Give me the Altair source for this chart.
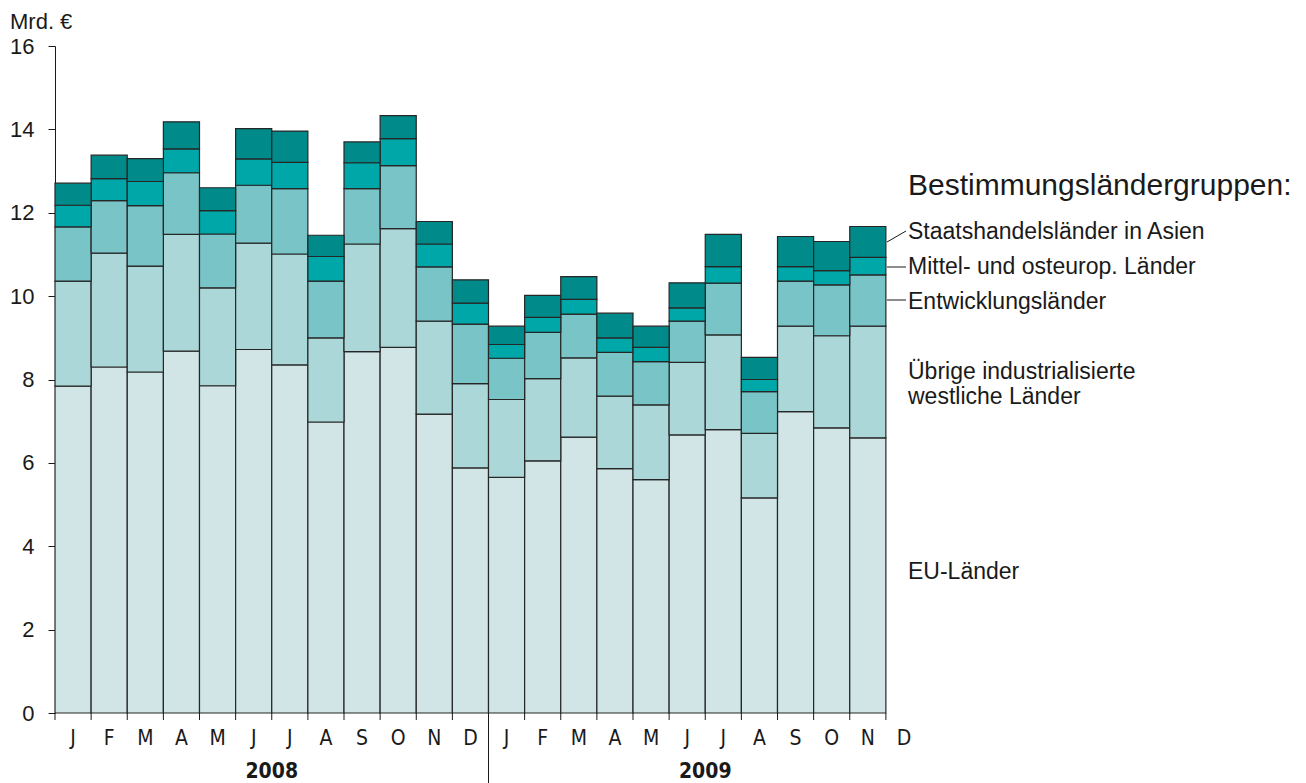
import altair as alt
import pandas as pd

# ---- data ----
years = ["2008", "2009"]
month_letters = ["J", "F", "M", "A", "M", "J", "J", "A", "S", "O", "N", "D"]
keys = [f"{y}-{m:02d}" for y in years for m in range(1, 13)]

series = ["EU-Länder", "Übrige industrialisierte westliche Länder", "Entwicklungsländer",
          "Mittel- und osteurop. Länder", "Staatshandelsländer in Asien"]
colors = ["#d1e4e6", "#acd7d8", "#79c4c6", "#00a7a8", "#008a8a"]

# months with data (Jan 2008 .. Nov 2009), values in Mrd. €
eu = [7.84, 8.30, 8.18, 8.68, 7.85, 8.72, 8.35, 6.98, 8.67, 8.77, 7.17, 5.88,
      5.65, 6.05, 6.62, 5.86, 5.60, 6.67, 6.80, 5.16, 7.23, 6.84, 6.60]
uebrige = [2.52, 2.73, 2.54, 2.80, 2.35, 2.55, 2.66, 2.02, 2.58, 2.85, 2.23, 2.02,
           1.87, 1.97, 1.90, 1.74, 1.79, 1.74, 2.27, 1.55, 2.05, 2.21, 2.68]
entw = [1.30, 1.26, 1.45, 1.48, 1.29, 1.39, 1.57, 1.36, 1.33, 1.51, 1.30, 1.43,
        0.99, 1.11, 1.05, 1.05, 1.04, 0.99, 1.24, 1.00, 1.08, 1.22, 1.23]
moe = [0.52, 0.53, 0.58, 0.57, 0.56, 0.63, 0.63, 0.59, 0.62, 0.65, 0.55, 0.50,
       0.33, 0.36, 0.35, 0.35, 0.34, 0.32, 0.40, 0.29, 0.35, 0.34, 0.42]
asien = [0.53, 0.56, 0.55, 0.65, 0.55, 0.73, 0.75, 0.51, 0.50, 0.55, 0.54, 0.56,
         0.44, 0.53, 0.55, 0.59, 0.51, 0.60, 0.77, 0.53, 0.72, 0.70, 0.74]

legend_title = "Bestimmungsländergruppen:"
legend_lines = [["Staatshandelsländer in Asien"], ["Mittel- und osteurop. Länder"],
                ["Entwicklungsländer"], ["Übrige industrialisierte", "westliche Länder"],
                ["EU-Länder"]]

# ---- tables ----
rows = []
for si, (name, vals) in enumerate(zip(series, [eu, uebrige, entw, moe, asien])):
    for k, v in zip(keys, vals):
        rows.append({"key": k, "series": name, "rank": si, "value": v})
df = pd.DataFrame(rows)
mdf = pd.DataFrame({"key": keys, "lab": month_letters * len(years)})
ydf = pd.DataFrame({"key": [f"{y}-07" for y in years], "year": years})
sdf = pd.DataFrame({"key": [f"{years[1]}-01"]})
one = pd.DataFrame({"d": [0]})

W, H = 867, 667
HALF = W / len(keys) / 2
FONT = "Liberation Sans, Arial, sans-serif"
NARROW = "Liberation Sans Narrow, Arial Narrow, DejaVu Sans Condensed, sans-serif"
INK = "#1a1a1a"

xscale = alt.Scale(domain=keys, paddingInner=0, paddingOuter=0)
xenc = alt.X("key:O", scale=xscale, axis=None)

bars = alt.Chart(df).mark_bar(stroke="#262626", strokeWidth=1.2).encode(
    x=alt.X("key:O", scale=xscale,
            axis=alt.Axis(title=None, labels=False, ticks=False,
                          domainColor=INK, domainWidth=2)),
    y=alt.Y("value:Q", stack="zero", scale=alt.Scale(domain=[0, 16], nice=False),
            axis=alt.Axis(title=None, grid=False, values=list(range(0, 17, 2)),
                          tickSize=7, tickColor=INK, domainColor=INK,
                          labelFont=FONT, labelFontSize=22, labelColor=INK,
                          labelPadding=14)),
    color=alt.Color("series:N", scale=alt.Scale(domain=series, range=colors), legend=None),
    order=alt.Order("rank:Q"),
)

# x-axis ticks at band edges
ticks = alt.Chart(mdf).mark_rule(color=INK, strokeWidth=1, xOffset=-HALF).encode(
    x=xenc, y=alt.value(H), y2=alt.value(H + 7))

# month labels
mlab = alt.Chart(mdf).mark_text(font=NARROW, fontSize=21, color=INK, baseline="middle").encode(
    x=xenc, y=alt.value(H + 26), text="lab:N")

# year labels and separator
ylab = alt.Chart(ydf).mark_text(font=NARROW, fontSize=21, fontWeight="bold", color=INK,
                                baseline="middle", xOffset=-HALF).encode(
    x=xenc, y=alt.value(H + 59), text="year:N")
sep = alt.Chart(sdf).mark_rule(color=INK, strokeWidth=1, xOffset=-HALF).encode(
    x=xenc, y=alt.value(H), y2=alt.value(H + 72))

layers = [bars, ticks, mlab, ylab, sep]

# unit label
layers.append(alt.Chart(one).mark_text(
    font=FONT, fontSize=22, align="left", baseline="middle", color=INK, text="Mrd. €").encode(
    x=alt.value(-45), y=alt.value(-24)))

# right-side annotations
layers.append(alt.Chart(one).mark_text(
    font=FONT, fontSize=30, align="left", baseline="middle", color=INK, text=legend_title).encode(
    x=alt.value(853), y=alt.value(140)))
ann_y = [186, 221, 256, 326, 526]
for lines, yy in zip(legend_lines, ann_y):
    for i, line in enumerate(lines):
        layers.append(alt.Chart(one).mark_text(
            font=FONT, fontSize=23, align="left", baseline="middle", color=INK, text=line).encode(
            x=alt.value(853), y=alt.value(yy + i * 25)))

# leader lines
for (x1, y1, x2, y2) in [(832, 196, 851, 185), (832, 221, 851, 221), (832, 254, 851, 254)]:
    layers.append(alt.Chart(one).mark_rule(color=INK, strokeWidth=1).encode(
        x=alt.value(x1), x2=alt.value(x2), y=alt.value(y1), y2=alt.value(y2)))

chart = alt.layer(*layers).properties(
    width=W, height=H,
    autosize=alt.AutoSizeParams(type="none"),
    padding={"left": 47, "top": 38, "right": 370, "bottom": 70},
).configure_view(strokeWidth=0)

chart.save("out.html", embed_options={"renderer": "svg", "actions": False})
